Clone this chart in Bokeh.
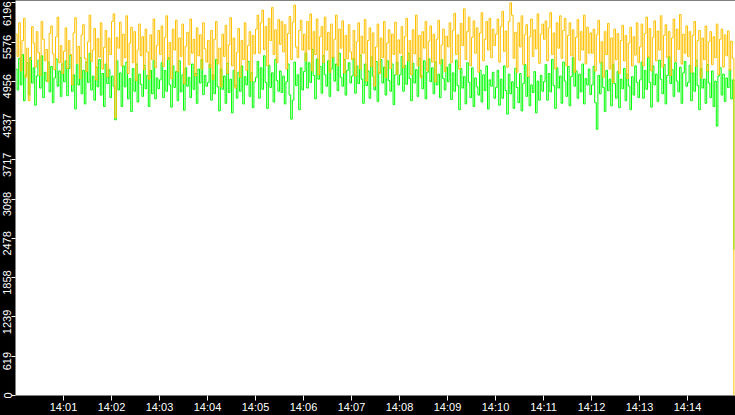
import pandas as pd
from bokeh.plotting import figure
from bokeh.models import Range1d, FixedTicker, LinearAxis, GlobalInlineStyleSheet
from bokeh.embed import file_html
from bokeh.resources import INLINE

# ---- data -------------------------------------------------------------
start_time = "2024-01-01 14:00:00"
end_time = "2024-01-01 14:15:00"
sample_seconds = 2

orange = [
    5700, 5350, 5880, 5120, 5600, 5950, 5020, 5480, 4650, 5300, 5820, 5560, 5180, 5740, 5410, 5050, 5900, 5620, 5280, 5460, 4950, 5710, 5830, 5390, 5140, 5660, 5970, 5250, 5520, 5080,
    5430, 5800, 5160, 5600, 5380, 4900, 5720, 5960, 5240, 5510, 5000, 5690, 5850, 5320, 5110, 5580, 6000, 5270, 5450, 5790, 4980, 5630, 5340, 5880, 5150, 5490, 5760, 5030, 5640, 5380,
    5900, 6020, 4380, 5650, 5480, 5890, 5200, 5700, 5330, 5990, 5080, 5560, 5810, 5250, 5740, 4970, 5450, 5860, 5360, 5660, 5140, 5780, 5420, 4990, 5690, 5300, 5940, 5170, 5520, 5760,
    5380, 5830, 5190, 5650, 5990, 5300, 5570, 5000, 5780, 5450, 5920, 5110, 5640, 5350, 5860, 4920, 5510, 5730, 5220, 5940, 5400, 5620, 5040, 5800, 5360, 5690, 5150, 5880, 5470, 5260,
    5600, 5170, 5760, 4990, 5620, 5900, 5230, 5480, 4870, 5700, 5350, 5840, 5080, 5530, 5960, 5200, 5640, 4850, 5410, 5790, 5020, 5600, 5300, 5880, 5130, 5520, 5740, 4960, 5680, 5390,
    5780, 6000, 5400, 5880, 6080, 5460, 5820, 5200, 5950, 5600, 6120, 5380, 5770, 5250, 5930, 5540, 5900, 5420, 5850, 5150, 5710, 5980, 5300, 5890, 6160, 5500, 5330, 5760, 5920, 5450,
    5700, 5280, 5900, 5460, 6020, 5120, 5740, 5380, 5940, 5060, 5660, 5820, 5250, 5970, 5450, 5730, 5100, 5860, 5330, 5620, 6000, 5200, 5780, 5480, 5910, 5090, 5680, 5310, 5850, 5420,
    5300, 5760, 5040, 5580, 5880, 5150, 5670, 5400, 5930, 4960, 5600, 5800, 5190, 5720, 4880, 5500, 5860, 5080, 5640, 5330, 5900, 5020, 5560, 5770, 5160, 5700, 5380, 5890, 5070, 5610,
    5400, 5820, 5170, 5660, 5950, 5280, 5600, 5060, 5770, 5390, 6000, 5200, 5680, 5010, 5740, 5480, 5900, 5120, 5590, 5830, 5260, 5700, 4950, 5620, 5920, 5230, 5530, 5780, 5110, 5670,
    5500, 5880, 5250, 5760, 6030, 5380, 5690, 5150, 5870, 5520, 6100, 5300, 5740, 5970, 5200, 5650, 5910, 5400, 5800, 5100, 5720, 6040, 5280, 5620, 5900, 5450, 5950, 5330, 5780, 5520,
    5700, 5940, 5260, 5820, 6060, 5430, 5750, 5180, 5900, 6196, 6000, 5320, 5730, 5100, 5880, 5500, 5990, 5220, 5690, 5850, 5030, 5660, 5940, 5350, 5770, 5470, 6020, 5240, 5700, 5860,
    5620, 5910, 5280, 5800, 6040, 5380, 5720, 5150, 5880, 5480, 5990, 5320, 5760, 5950, 5200, 5680, 5880, 5360, 5770, 5100, 5650, 5930, 5290, 5740, 5450, 6000, 5230, 5810, 5400, 5720,
    5400, 5780, 5120, 5690, 5920, 5250, 5580, 5020, 5740, 5380, 5870, 5150, 5640, 4940, 5780, 5300, 5710, 5080, 5600, 5840, 5280, 5680, 5000, 5560, 5810, 5200, 5660, 5370, 5880, 5250,
    5500, 5860, 5200, 5710, 5970, 5330, 5790, 5120, 5650, 5910, 5280, 5750, 5450, 5990, 5180, 5680, 5850, 5330, 5740, 5050, 5640, 5940, 5270, 5780, 5460, 6010, 5230, 5700, 5400, 5830,
    5350, 5740, 5100, 5680, 5900, 5190, 5600, 5760, 5010, 5640, 5300, 5830, 5120, 5580, 5740, 5220, 5660, 5330, 5860, 5060, 5620, 5780, 5180, 5690, 5360, 5750, 5130, 5590, 5320, 0,
]

green = [
    5150, 4820, 5320, 4900, 5380, 4650, 5060, 5250, 4740, 5330, 4930, 5170, 4580, 5040, 5290, 4850, 5360, 4700, 5100, 4960, 5260, 4790, 5190, 4620, 5010, 5310, 4880, 5120, 4720, 5230,
    4950, 5280, 4730, 5160, 5370, 4800, 5060, 4520, 5220, 4900, 5330, 4760, 5130, 4600, 5260, 4940, 5400, 4820, 5040, 4660, 5180, 4870, 5300, 4740, 5080, 4560, 5230, 4920, 5140, 4700,
    5040, 4880, 4350, 5280, 4820, 5090, 4560, 5200, 4870, 5260, 4680, 5000, 4480, 5160, 4800, 5230, 4630, 5070, 4910, 4720, 5210, 4840, 5050, 4560, 5130, 4760, 5280, 4680, 5010, 4840,
    4980, 5250, 4700, 5130, 4800, 5330, 4900, 4550, 5200, 4860, 5110, 4650, 5280, 4790, 5060, 4500, 5170, 4880, 5020, 4700, 5230, 4830, 5080, 4610, 5150, 4930, 5300, 4750, 5050, 4880,
    4940, 5220, 4660, 5060, 4760, 5300, 4870, 4490, 5150, 4830, 5040, 4610, 5240, 4780, 4990, 4460, 5130, 4890, 4690, 5100, 4800, 5200, 4600, 5030, 4900, 5270, 4720, 5090, 4540, 4950,
    5020, 5270, 4690, 5170, 4830, 5360, 4940, 4530, 5210, 4860, 5090, 4630, 5300, 4970, 4800, 5120, 4780, 5040, 4600, 4950, 5230, 4740, 4360, 4660, 5260, 4890, 5060, 4510, 5170, 4820,
    5110, 5400, 4850, 5250, 4940, 5460, 5050, 4680, 5310, 4990, 5190, 4770, 5360, 5060, 4880, 5280, 4720, 5150, 5340, 4960, 5230, 4810, 5400, 5020, 4880, 5300, 4740, 5130, 5250, 4930,
    5040, 5320, 4770, 5200, 4920, 5370, 4990, 4610, 5230, 4890, 5120, 4690, 5340, 5040, 4820, 5270, 4640, 5090, 5300, 4930, 5180, 4740, 5280, 4970, 4800, 5230, 4590, 5060, 5260, 4900,
    5060, 5350, 4800, 5210, 4910, 5400, 5000, 4650, 5240, 4930, 5140, 4720, 5320, 5050, 4840, 5280, 4680, 5100, 5310, 4950, 5170, 4760, 5260, 4900, 5070, 4700, 5300, 5000, 4820, 5180,
    4950, 5230, 4670, 5090, 4800, 5290, 4890, 4510, 5160, 4850, 5030, 4600, 5250, 4940, 4700, 5170, 4560, 5010, 4870, 4740, 5130, 4630, 5060, 4810, 5200, 4520, 4980, 4880, 5100, 4690,
    4860, 5130, 4580, 4990, 4690, 5200, 4810, 4440, 5070, 4760, 4950, 4530, 5160, 4860, 4620, 5080, 4490, 4920, 5220, 4720, 5030, 4570, 4900, 4780, 5110, 4460, 4960, 4660, 5050, 4800,
    4950, 5220, 4660, 5080, 4790, 5300, 4890, 4530, 5170, 4850, 5040, 4610, 5260, 4960, 4720, 5190, 4570, 5030, 5330, 4880, 5120, 4690, 5070, 4790, 5230, 4600, 5000, 4900, 5150, 4750,
    4900, 5190, 4620, 4200, 5050, 4760, 5260, 4860, 4480, 5130, 4810, 4990, 4570, 5220, 4920, 4690, 5110, 4540, 4990, 4840, 5160, 4650, 5070, 4880, 4510, 5030, 4740, 5200, 4940, 4700,
    4980, 5260, 4690, 5130, 4830, 5340, 4940, 4550, 5200, 4900, 5070, 4640, 5290, 4990, 4760, 5220, 4600, 5050, 5350, 4920, 5140, 4720, 5250, 4960, 4790, 5180, 4610, 5090, 5270, 4880,
    4940, 5210, 4650, 5090, 4800, 5290, 4890, 4510, 5160, 4850, 4990, 4610, 5220, 4930, 4700, 5120, 4560, 4960, 4250, 5040, 5170, 4740, 5070, 4640, 5010, 4860, 5140, 4680, 4980, 2300,
]

y_max = 6196
ytick_labels = ["0", "619", "1239", "1858", "2478", "3098", "3717", "4337", "4956", "5576", "6196"]
xtick_labels = ["14:01", "14:02", "14:03", "14:04", "14:05", "14:06", "14:07",
                "14:08", "14:09", "14:10", "14:11", "14:12", "14:13", "14:14"]

# ---- derived ---------------------------------------------------------
t0 = pd.Timestamp(start_time)
t1 = pd.Timestamp(end_time)
times = [t0 + pd.Timedelta(seconds=i * sample_seconds) for i in range(len(orange))]

frame_h = 399
y_top = y_max * 1.0058
px_per_unit = frame_h / y_top

ytick_pos = [i * y_max / (len(ytick_labels) - 1) for i in range(len(ytick_labels))]
label_shift_px = [0] + [5] * (len(ytick_labels) - 2) + [11]
ylabel_pos = [int(round(v - s / px_per_unit)) for v, s in zip(ytick_pos, label_shift_px)]
ylabel_pos[0] = 0

xtick_ms = [int((t0 + pd.Timedelta(minutes=i + 1)).value // 10**6) for i in range(len(xtick_labels))]

# ---- figure ----------------------------------------------------------
p = figure(width=735, height=415, x_axis_type="datetime",
           x_range=Range1d(t0, t1), y_range=Range1d(0, y_top),
           output_backend="svg", toolbar_location=None,
           min_border=0, min_border_left=0, min_border_right=0,
           min_border_top=0, min_border_bottom=0)
p.stylesheets = [GlobalInlineStyleSheet(css="html, body { margin: 0 !important; padding: 0; overflow: hidden; background: #000; }")]

p.background_fill_color = "white"
p.border_fill_color = "black"
p.outline_line_color = None
p.grid.visible = False

p.step(times, green, mode="after", line_color="#00FF00", line_width=1)
p.step(times, orange, mode="after", line_color="#FFC000", line_width=1)

font = "Liberation Sans"

# x axis
xa = p.xaxis[0]
xa.ticker = FixedTicker(ticks=xtick_ms)
xa.major_label_overrides = {ms: lab for ms, lab in zip(xtick_ms, xtick_labels)}
xa.axis_line_color = None
xa.major_tick_line_color = "white"
xa.major_tick_in = 0
xa.major_tick_out = 5
xa.minor_tick_line_color = None
xa.major_label_standoff = 0
xa.major_label_text_color = "white"
xa.major_label_text_font = font
xa.major_label_text_font_size = "11px"
xa.major_label_text_line_height = 0.9

# y axis: tick marks only (its labels are not drawn)
ya = p.yaxis[0]
ya.ticker = FixedTicker(ticks=ytick_pos)
ya.axis_line_color = None
ya.major_tick_line_color = "white"
ya.major_tick_in = 0
ya.major_tick_out = 4
ya.minor_tick_line_color = None
ya.major_label_text_color = None
ya.major_label_text_font_size = "1px"
ya.major_label_standoff = 0

# y axis: labels only (outer)
yl = LinearAxis(ticker=FixedTicker(ticks=ylabel_pos),
                major_label_overrides={pos: lab for pos, lab in zip(ylabel_pos, ytick_labels)},
                axis_line_color=None, major_tick_line_color=None,
                major_tick_in=0, major_tick_out=0, minor_tick_line_color=None,
                major_label_orientation="vertical", major_label_standoff=0,
                major_label_text_color="white", major_label_text_font=font,
                major_label_text_font_size="11px", major_label_text_line_height=0.9)
p.add_layout(yl, "left")

open("out.html", "w").write(file_html(p, INLINE))
